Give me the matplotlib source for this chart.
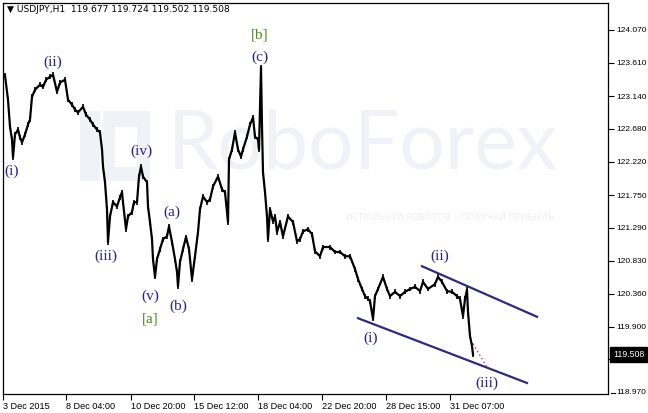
import numpy as np
import matplotlib.pyplot as plt
from matplotlib.patches import Rectangle

# USDJPY H1, close values (bar index, price)
bars = [0, 2, 5, 7, 9, 10, 12, 15, 17, 19, 22, 25, 27, 29, 32, 37, 40, 43, 47, 50,
        54, 57, 62, 65, 69, 72, 75, 80, 83, 87, 90, 94, 97, 99, 100, 102, 104, 105, 107, 110,
        114, 117, 119, 120, 123, 125, 129, 131, 134, 136, 138, 140, 144, 145, 147, 149, 150, 152, 154, 157,
        160, 164, 166, 169, 172, 174, 175, 177, 180, 183, 186, 189, 192, 195, 197, 200, 204, 207, 210, 215,
        219, 222, 225, 226, 229, 232, 235, 238, 240, 244, 247, 250, 252, 255, 256, 258, 259, 260, 262, 264,
        265, 267, 270, 272, 274, 277, 280, 285, 290, 294, 297, 300, 305, 309, 312, 317, 320, 327, 332, 337,
        342, 347, 352, 355, 359, 362, 365, 367, 370, 372, 375, 380, 384, 387, 392, 397, 402, 407, 412, 417,
        420, 425, 432, 435, 439, 444, 449, 454, 457, 460, 462, 464, 465, 467, 469, 470]
close = [123.45, 123.43, 123.09, 122.71, 122.53, 122.28, 122.60, 122.67, 122.56, 122.49,
         122.60, 122.74, 122.81, 123.13, 123.23, 123.30, 123.27, 123.37, 123.41, 123.44,
         123.20, 123.33, 123.37, 123.09, 123.02, 122.95, 122.91, 122.99, 122.88, 122.81,
         122.74, 122.67, 122.63, 122.39, 122.15, 121.93, 121.55, 121.09, 121.45, 121.65,
         121.59, 121.72, 121.79, 121.65, 121.27, 121.45, 121.51, 121.65, 121.65, 122.01,
         122.15, 122.01, 121.93, 121.59, 121.37, 121.13, 120.85, 120.60, 120.85, 120.99,
         121.13, 121.17, 121.31, 121.09, 120.85, 120.67, 120.47, 120.81, 120.99, 121.16,
         120.99, 120.57, 120.89, 121.23, 121.55, 121.73, 121.65, 121.69, 121.87, 122.01,
         121.83, 121.79, 121.37, 122.25, 122.39, 122.63, 122.39, 122.29, 122.39, 122.57,
         122.74, 122.84, 122.57, 122.53, 122.39, 123.54, 122.71, 122.07, 121.79, 121.45,
         121.13, 121.55, 121.38, 121.45, 121.23, 121.37, 121.17, 121.45, 121.37, 121.10,
         121.13, 121.24, 121.27, 121.20, 120.96, 120.89, 121.02, 121.02, 120.95, 120.95,
         120.89, 120.89, 120.71, 120.57, 120.43, 120.33, 120.29, 120.26, 120.01, 120.33,
         120.43, 120.60, 120.43, 120.33, 120.39, 120.33, 120.39, 120.43, 120.46, 120.40,
         120.53, 120.43, 120.50, 120.60, 120.53, 120.40, 120.39, 120.33, 120.29, 120.05,
         120.29, 120.42, 120.11, 119.77, 119.63, 119.508]

yticks = [124.07, 123.61, 123.14, 122.68, 122.22, 121.75, 121.29, 120.83, 120.36, 119.90, 119.44]
xtick_pos = [0, 63, 128, 191, 255, 319, 383, 447]
xtick_lab = ['3 Dec 2015', '8 Dec 04:00', '10 Dec 20:00', '15 Dec 12:00',
             '18 Dec 04:00', '22 Dec 20:00', '28 Dec 15:00', '31 Dec 07:00']

# wave labels: text, bar, price, colour
blue = '#24248f'
green = '#4b8a16'
waves = [('(i)', 9, 122.08, blue), ('(ii)', 50, 123.62, blue), ('(iii)', 103, 120.89, blue),
         ('(iv)', 138, 122.36, blue), ('(v)', 147, 120.33, blue), ('[a]', 147, 120.01, green),
         ('(a)', 169, 121.51, blue), ('(b)', 175, 120.19, blue), ('[b]', 257, 124.00, green),
         ('(c)', 257, 123.69, blue), ('(i)', 368, 119.74, blue), ('(ii)', 437, 120.89, blue),
         ('(iii)', 484, 119.10, blue)]

# channel lines
upper = ([419, 534], [120.75, 120.04])
lower = ([355, 524], [120.02, 119.11])
target = ([470, 485], [119.66, 119.31])

fig = plt.figure(figsize=(6.48, 4.13), dpi=100)
ax = fig.add_axes([3/648, 19/413, 605/648, 391/413])
ax.set_xlim(0, 605)
ax.set_ylim(118.955, 124.448)

# watermark
wm = '#f0f2f7'
ax.add_patch(Rectangle((77, 121.95), 20, 0.98, color=wm, zorder=0, lw=0))
ax.add_patch(Rectangle((100, 121.95), 47, 0.98, color=wm, zorder=0, lw=0))
ax.add_patch(Rectangle((112, 122.15), 22, 0.55, color='white', zorder=0, lw=0))
ax.text(165, 122.44, 'RoboForex', fontsize=58, family='Lato', color=wm,
        va='center', ha='left', zorder=0)
ax.text(551, 121.43, 'ИСПОЛЬЗУЙ РОБОТОВ – ПОЛУЧАЙ ПРИБЫЛЬ', fontsize=6.5,
        family='DejaVu Sans', color='#eceef3', va='center', ha='right', zorder=0)

ax.vlines(bars, np.array(close) - 0.035, np.array(close) + 0.035, color='black', lw=1.2, zorder=3)
ax.plot(bars, close, color='black', lw=1.6, zorder=3)

ax.plot(*upper, color='#2b2b80', lw=1.6, zorder=4)
ax.plot(*lower, color='#2b2b80', lw=1.6, zorder=4)
ax.plot(*target, color='#d03050', lw=1, ls=(0, (1, 2)), zorder=4)

for txt, bx, py, c in waves:
    ax.text(bx, py, txt, color=c, fontsize=11, family='Liberation Serif',
            ha='center', va='center', zorder=5)

ax.yaxis.tick_right()
ax.set_yticks(yticks)
ax.set_yticklabels(['%.3f' % v for v in yticks])
ax.set_xticks(xtick_pos)
ax.set_xticklabels(xtick_lab, ha='left')
ax.tick_params(axis='both', length=4, width=0.8, labelsize=6.0, direction='out', pad=2)
ax.tick_params(axis='x', labelsize=6.6)
for lab in ax.get_xticklabels() + ax.get_yticklabels():
    lab.set_family('Liberation Sans')
for s in ax.spines.values():
    s.set_linewidth(0.9)

# bottom price label sits just under the frame
ax.plot([608, 612], [118.97, 118.97], color='black', lw=0.8, clip_on=False)
ax.text(613.5, 118.97, '118.970', fontsize=6.0, family='Liberation Sans', va='center',
        ha='left', clip_on=False)
# current price box
ax.text(610, 119.508, '119.508', fontsize=6.3, family='Liberation Sans', color='white',
        va='center', ha='left', clip_on=False, zorder=10,
        bbox=dict(boxstyle='square,pad=0.35', fc='black', ec='black'))

ax.text(4, 124.35, '▼ USDJPY,H1  119.677 119.724 119.502 119.508', fontsize=6.6,
        family='DejaVu Sans', va='center', ha='left')

fig.savefig('out.png', dpi=100)
